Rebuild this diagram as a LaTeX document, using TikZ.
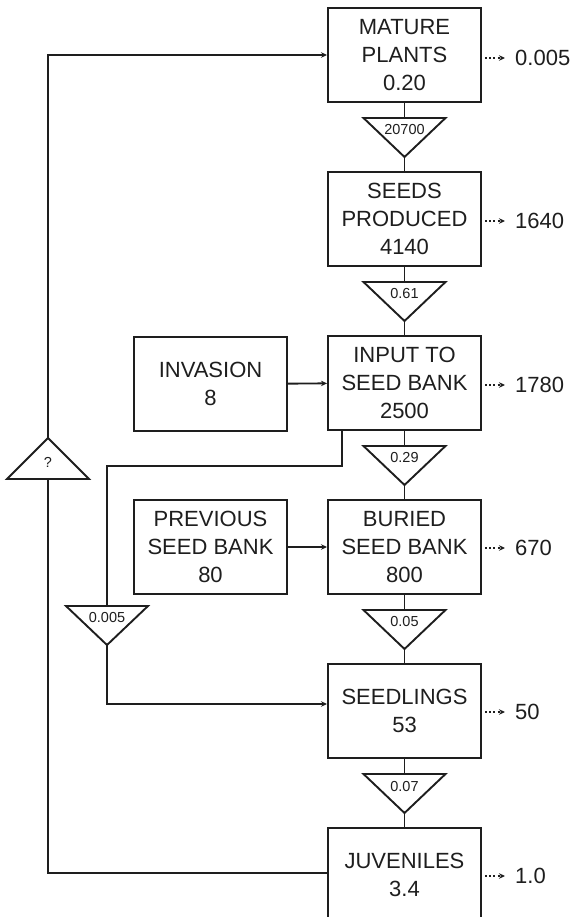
\documentclass[tikz,border=0pt]{standalone}
\usepackage{fontspec}
\setmainfont{Liberation Sans}
\usetikzlibrary{arrows.meta}
\definecolor{ink}{RGB}{30,30,30}
\newcommand\dtri[4]{%
  \coordinate (#1t) at (#2,#3);
  \coordinate (#1a) at (#2,#3+39);
  \draw[tri] (#2-41,#3) -- (#2+41,#3) -- (#1a) -- cycle;
  \node[tlab] (#1l) at (#2,#3+12) {#4};}
\begin{document}
\begin{tikzpicture}[x=1pt,y=-1pt,
  box/.style={draw=ink,line width=2pt,minimum width=153pt,minimum height=94pt,inner sep=0pt,align=center,text=ink,font=\fontsize{22}{28}\selectfont},
  tri/.style={draw=ink,line width=1.9pt,line join=miter},
  tlab/.style={inner sep=0pt,text=ink,font=\fontsize{14.5}{16}\selectfont},
  rlab/.style={inner sep=0pt,anchor=west,text=ink,font=\fontsize{22}{26}\selectfont},
  ln/.style={draw=ink,line width=1.9pt},
  arr/.style={ln,-{Stealth[length=6pt,width=5.5pt]}},
  dotarr/.style={draw=ink,line width=1.9pt,dash pattern=on 2pt off 2.2pt,-{Stealth[length=6pt,width=5.5pt]},shorten <=3pt,shorten >=10pt}]
\useasboundingbox (0,0) rectangle (572,917);
\clip (0,0) rectangle (572,917);

% main column
\node[box] (mat) at (404.5,55)  {MATURE\\PLANTS\\0.20};
\node[box] (sp)  at (404.5,219) {SEEDS\\PRODUCED\\4140};
\node[box] (inp) at (404.5,383) {INPUT TO\\SEED BANK\\2500};
\node[box] (bur) at (404.5,547) {BURIED\\SEED BANK\\800};
\node[box] (sdl) at (404.5,711) {SEEDLINGS\\53};
\node[box] (juv) at (404.5,875) {JUVENILES\\3.4};

% side boxes
\node[box] (inv) at (210.5,384) {INVASION\\8};
\node[box] (prv) at (210.5,547) {PREVIOUS\\SEED BANK\\80};

% triangles
\dtri{ta}{404.5}{118}{20700}
\dtri{tb}{404.5}{282}{0.61}
\dtri{tc}{404.5}{446}{0.29}
\dtri{td}{404.5}{610}{0.05}
\dtri{te}{404.5}{774}{0.07}
\dtri{tf}{107}{606}{0.005}

% up triangle "?"
\coordinate (qa) at (48,438);
\coordinate (qb) at (48,479);
\draw[tri] (7,479) -- (89,479) -- (qa) -- cycle;
\node[tlab] (ql) at (48,462) {?};

% vertical chain
\draw[ln] (mat) -- (tat);
\draw[ln] (taa) -- (sp);
\draw[ln] (sp) -- (tbt);
\draw[ln] (tba) -- (inp);
\draw[ln] (inp) -- (tct);
\draw[ln] (tca) -- (bur);
\draw[ln] (bur) -- (tdt);
\draw[ln] (tda) -- (sdl);
\draw[ln] (sdl) -- (tet);
\draw[ln] (tea) -- (juv);

% side inputs
\draw[arr] (inv) -- (inp);
\draw[arr] (prv) -- (bur);

% input to seed bank -> 0.005 -> seedlings
\coordinate (c1) at (342,466);
\draw[ln] (c1 |- inp.south) -- (c1) -| (tft);
\draw[arr] (tfa) |- ([yshift=7pt]sdl.west);

% feedback juveniles -> mature plants
\draw[ln] ([yshift=2pt]juv.west) -| (qb);
\draw[arr] (qa) |- (mat.west);

% losses
\node[rlab] (o1) at (515,58)  {0.005};
\node[rlab] (o2) at (515,221) {1640};
\node[rlab] (o3) at (515,385) {1780};
\node[rlab] (o4) at (515,548) {670};
\node[rlab] (o5) at (515,712) {50};
\node[rlab] (o6) at (515,876) {1.0};
\draw[dotarr] (mat.east |- o1) -- (o1.west);
\draw[dotarr] (sp.east |- o2) -- (o2.west);
\draw[dotarr] (inp.east |- o3) -- (o3.west);
\draw[dotarr] (bur.east |- o4) -- (o4.west);
\draw[dotarr] (sdl.east |- o5) -- (o5.west);
\draw[dotarr] (juv.east |- o6) -- (o6.west);
\end{tikzpicture}
\end{document}
